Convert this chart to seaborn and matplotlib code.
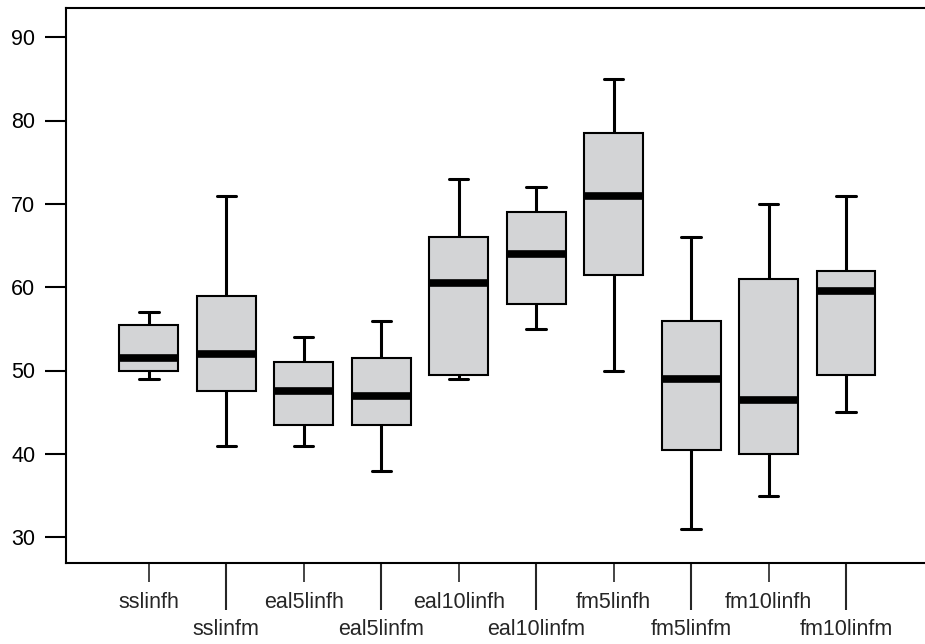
import matplotlib
matplotlib.use("Agg")
import matplotlib.pyplot as plt
import seaborn as sns
import pandas as pd
import numpy as np

categories = ["sslinfh", "sslinfm", "eal5linfh", "eal5linfm", "eal10linfh",
              "eal10linfm", "fm5linfh", "fm5linfm", "fm10linfh", "fm10linfm"]
whisker_low = [49, 41, 41, 38, 49, 55, 50, 31, 35, 45]
q1 = [50, 47.5, 43.5, 43.5, 49.5, 58, 61.5, 40.5, 40, 49.5]
median = [51.5, 52, 47.5, 47, 60.5, 64, 71, 49, 46.5, 59.5]
q3 = [55.5, 59, 51, 51.5, 66, 69, 78.5, 56, 61, 62]
whisker_high = [57, 71, 54, 56, 73, 72, 85, 66, 70, 71]
yticks = [30, 40, 50, 60, 70, 80, 90]

rows = []
for i, c in enumerate(categories):
    for v in (whisker_low[i], q1[i], median[i], q3[i], whisker_high[i]):
        rows.append({"group": c, "value": v})
df = pd.DataFrame(rows)

sns.set_style("white")
plt.rcParams['font.family'] = ['Liberation Sans', 'DejaVu Sans']

fig = plt.figure(figsize=(9.25, 6.44), dpi=100)
ax = fig.add_axes([66/925, (644-563)/644, (925-66)/925, (563-8)/644])

sns.boxplot(data=df, x="group", y="value", order=categories, ax=ax,
            color="#d3d4d6", saturation=1, linecolor="black", linewidth=1.5,
            width=0.76, whis=(0, 100), showfliers=False,
            medianprops={"linewidth": 5.5, "color": "black", "solid_capstyle": "butt"},
            whiskerprops={"linewidth": 2.2, "color": "black"},
            capprops={"linewidth": 2.2, "color": "black"},
            capwidths=0.25)

ax.set_xlim(-1.07, 10.02)
ax.set_ylim(26.9, 93.5)
ax.set_xlabel("")
ax.set_ylabel("")

ax.set_yticks(yticks)
ax.set_yticklabels([str(t) for t in yticks])
ax.tick_params(axis="y", which="major", length=15, width=1.5, pad=7,
               labelsize=15.5, left=True, colors="black")

major_pos = list(range(0, 10, 2))
minor_pos = list(range(1, 10, 2))
ax.set_xticks(major_pos)
ax.set_xticklabels([categories[i] for i in major_pos])
ax.set_xticks(minor_pos, minor=True)
ax.set_xticklabels([categories[i] for i in minor_pos], minor=True)
ax.tick_params(axis="x", which="major", length=14, width=1.2, pad=7,
               labelsize=15.5, bottom=True)
ax.tick_params(axis="x", which="minor", length=34, width=1.5, pad=6,
               labelsize=15.5, bottom=True)

for name, s in ax.spines.items():
    s.set_visible(name != "right")
    s.set_linewidth(1.5)
    s.set_color("black")

fig.savefig("out.png", dpi=100)
